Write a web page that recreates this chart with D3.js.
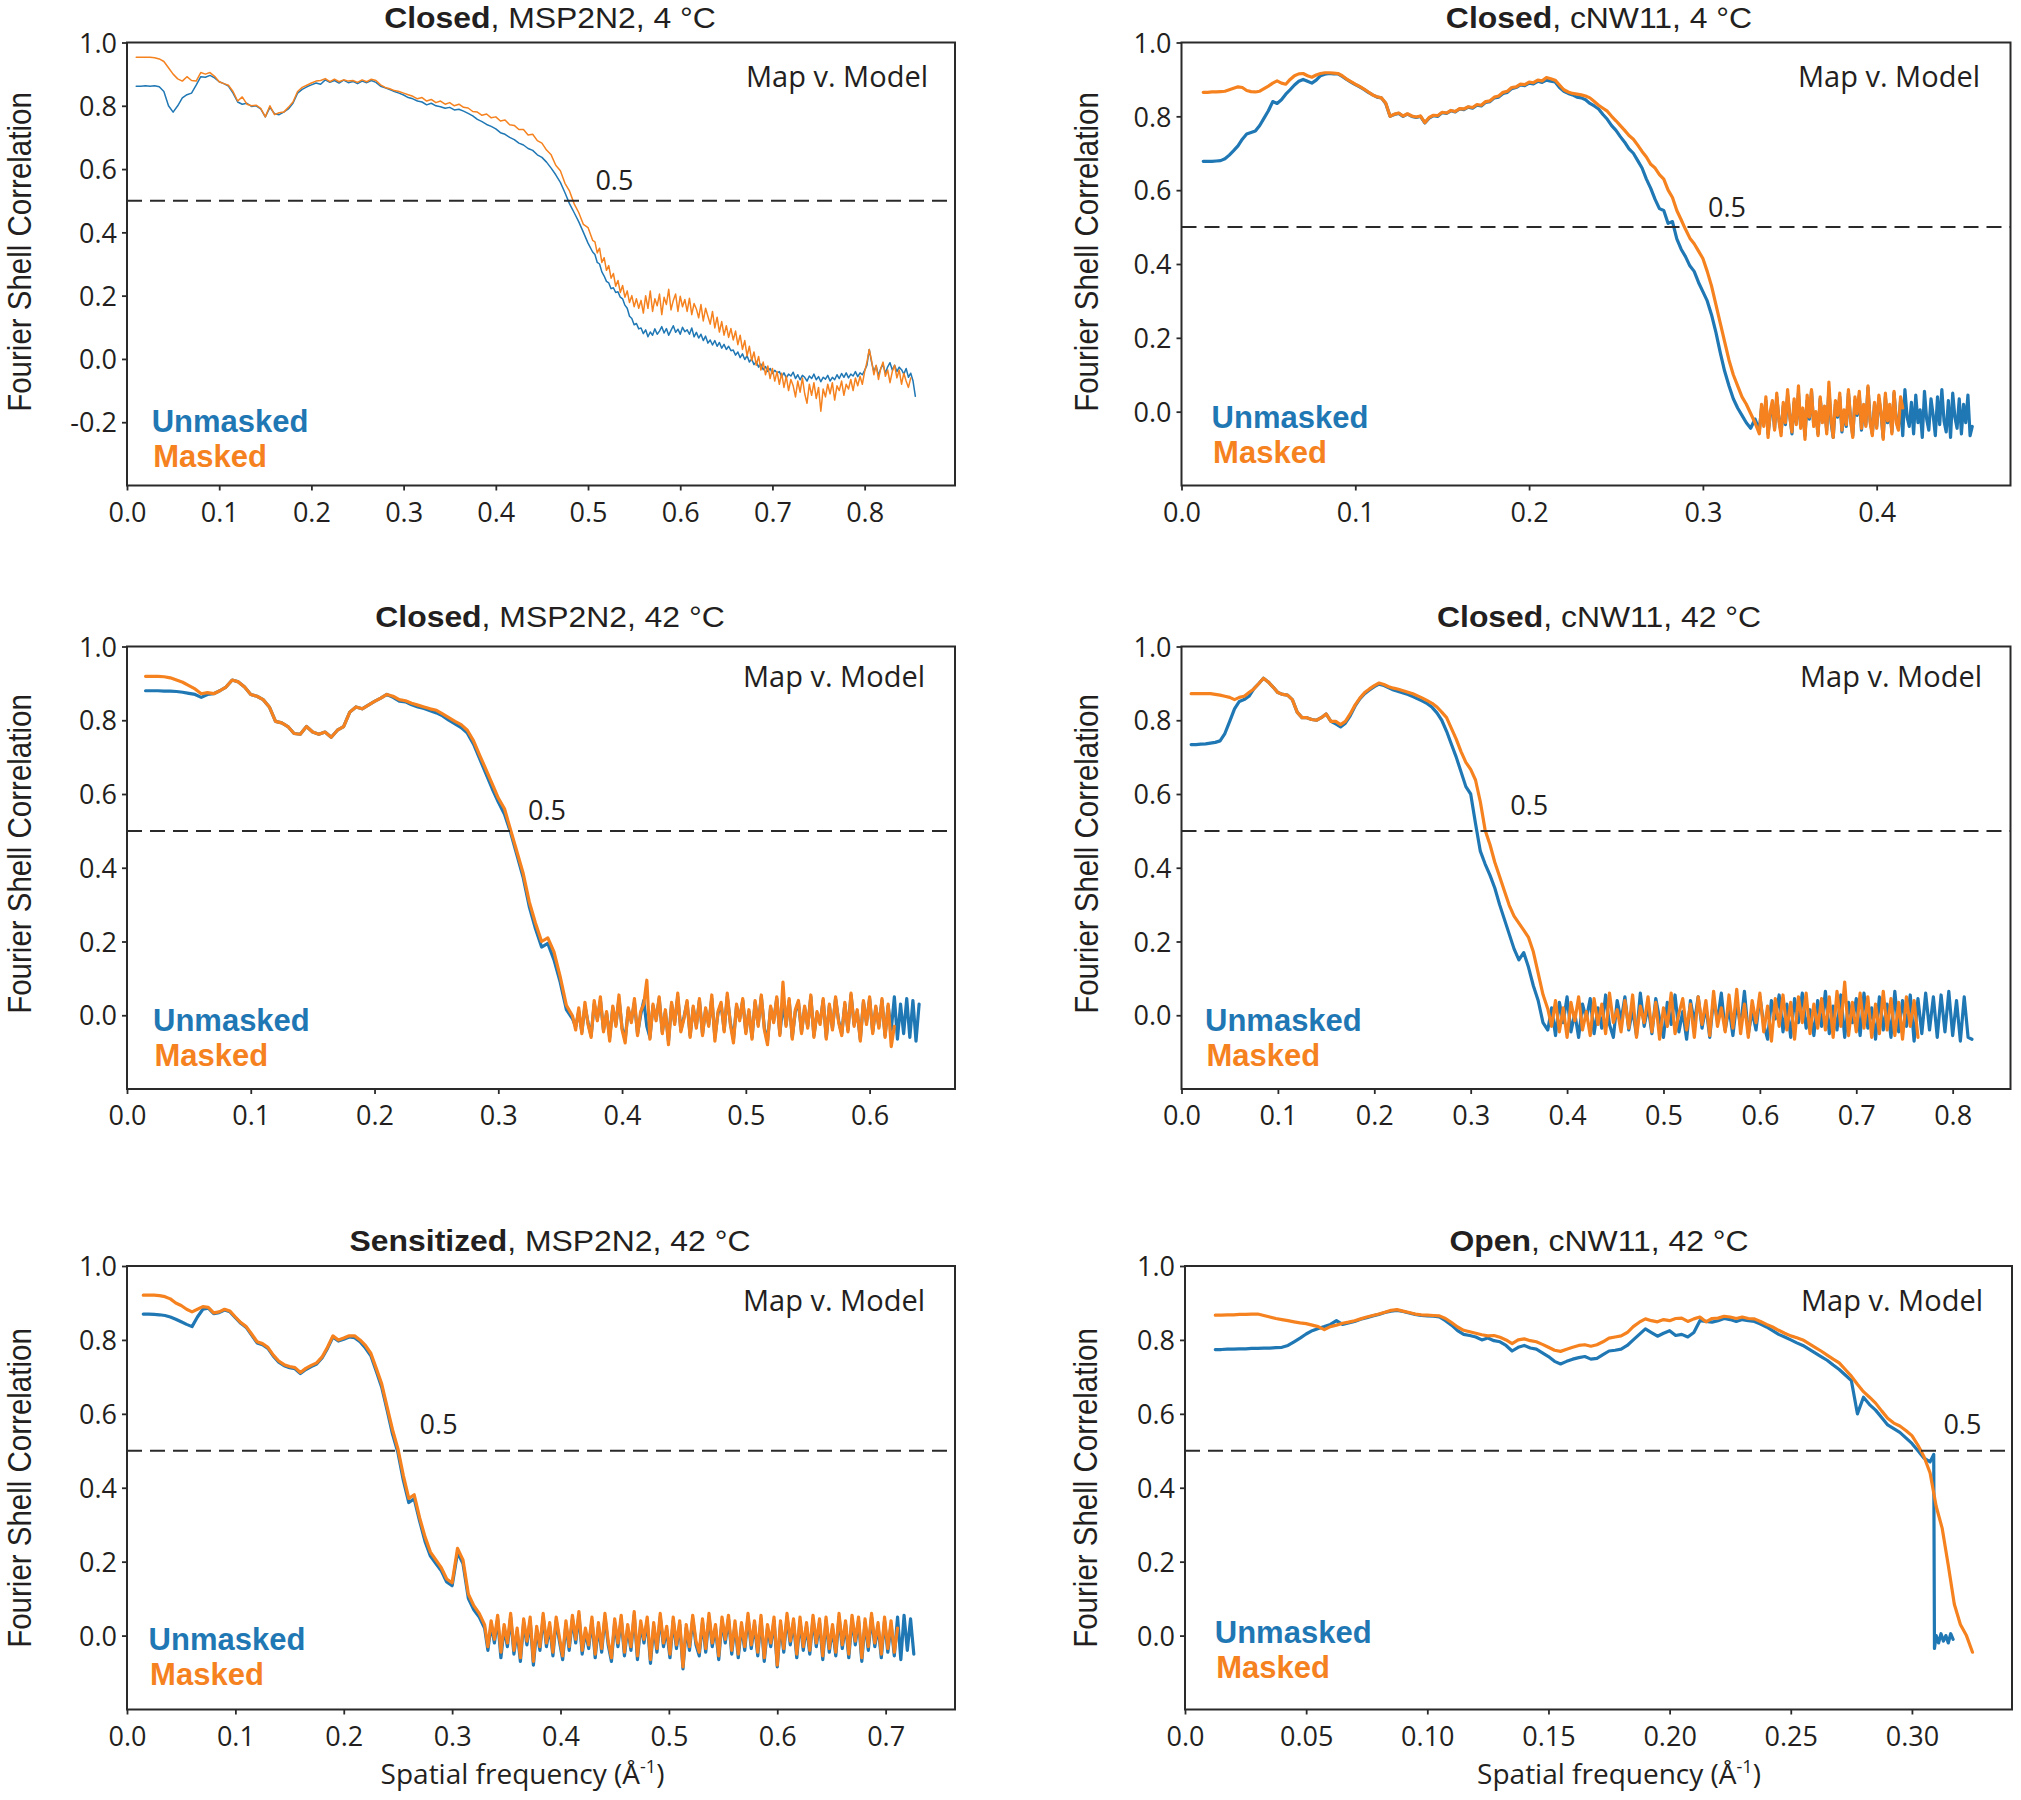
<!DOCTYPE html>
<html><head><meta charset="utf-8">
<script src="https://cdn.jsdelivr.net/npm/d3@7"></script>
<style>body{margin:0;background:#fff}</style>
</head><body>
<svg id="chart" width="2021" height="1800"></svg>
<script>
// ---------------- DATA ----------------
const titleBold = ["Closed", "Closed", "Closed", "Closed", "Sensitized", "Open"];
const titleRest = [", MSP2N2, 4 °C", ", cNW11, 4 °C", ", MSP2N2, 42 °C", ", cNW11, 42 °C", ", MSP2N2, 42 °C", ", cNW11, 42 °C"];
const xMax = [0.898, 0.477, 0.669, 0.86, 0.764, 0.3413];
const yMin = [-0.4, -0.2, -0.2, -0.2, -0.2, -0.2];
const xTickValues = [
  [0, 0.1, 0.2, 0.3, 0.4, 0.5, 0.6, 0.7, 0.8],
  [0, 0.1, 0.2, 0.3, 0.4],
  [0, 0.1, 0.2, 0.3, 0.4, 0.5, 0.6],
  [0, 0.1, 0.2, 0.3, 0.4, 0.5, 0.6, 0.7, 0.8],
  [0, 0.1, 0.2, 0.3, 0.4, 0.5, 0.6, 0.7],
  [0, 0.05, 0.10, 0.15, 0.20, 0.25, 0.30]
];
const xTickLabels = [
  ["0.0", "0.1", "0.2", "0.3", "0.4", "0.5", "0.6", "0.7", "0.8"],
  ["0.0", "0.1", "0.2", "0.3", "0.4"],
  ["0.0", "0.1", "0.2", "0.3", "0.4", "0.5", "0.6"],
  ["0.0", "0.1", "0.2", "0.3", "0.4", "0.5", "0.6", "0.7", "0.8"],
  ["0.0", "0.1", "0.2", "0.3", "0.4", "0.5", "0.6", "0.7"],
  ["0.0", "0.05", "0.10", "0.15", "0.20", "0.25", "0.30"]
];
const yTickValuesTL = [-0.2, 0, 0.2, 0.4, 0.6, 0.8, 1.0];
const yTickLabelsTL = ["-0.2", "0.0", "0.2", "0.4", "0.6", "0.8", "1.0"];
const yTickValues = [0, 0.2, 0.4, 0.6, 0.8, 1.0];
const yTickLabels = ["0.0", "0.2", "0.4", "0.6", "0.8", "1.0"];
const threshold = 0.5;
const thresholdLabel = "0.5";
const thresholdLabelX = [0.508, 0.303, 0.324, 0.341, 0.270, 0.313];
const seriesNames = ["Unmasked", "Masked"];
const cornerText = "Map v. Model";
const yAxisTitle = "Fourier Shell Correlation";
const xAxisTitle = "Spatial frequency (Å";
const xAxisTitleSup = "-1";

// ---- Panel 1: Closed, MSP2N2, 4 °C ----
const p1X0 = 0.010, p1Dx = 0.005, p1FineX0 = 0.5075, p1FineDx = 0.0025;
const p1Unmasked = [
  .862,.862,.863,.862,.863,.860,.845,.800,.780,.800,
  .825,.835,.840,.865,.892,.890,.896,.888,.876,.870,
  .862,.840,.812,.805,.808,.798,.800,.790,.765,.795,
  .775,.772,.780,.790,.808,.840,.852,.860,.866,.872,
  .868,.882,.874,.880,.872,.881,.873,.877,.870,.878,
  .873,.880,.874,.862,.857,.851,.845,.840,.834,.826,
  .822,.815,.812,.803,.808,.800,.797,.792,.795,.787,
  .789,.783,.776,.768,.757,.750,.741,.735,.727,.715,
  .710,.700,.693,.682,.676,.665,.659,.645,.637,.622,
  .603,.582,.558,.525,.490,.462,.433,.400,.366,.338
];
const p1UnmaskedFine = [
  .330,.305,.300,.275,.262,.245,.240,.222,.225,.210,.212,.195,.190,.170,.160,.135,.128,.108,.112,.095,
  .098,.080,.092,.070,.085,.075,.095,.078,.088,.102,.082,.096,.075,.090,.105,.084,.094,.078,.100,.086,
  .092,.078,.098,.070,.084,.066,.078,.058,.072,.050,.060,.044,.058,.040,.052,.034,.046,.030,.040,.026,
  .028,.012,.022,.004,.016,-.002,.010,-.010,.000,-.018,-.008,-.026,-.016,-.034,-.024,-.040,-.030,-.046,-.036,-.044,
  -.040,-.056,-.044,-.060,-.048,-.054,-.042,-.062,-.050,-.066,-.052,-.058,-.070,-.054,-.062,-.048,-.066,-.056,-.072,-.058,
  -.064,-.052,-.070,-.058,-.066,-.050,-.062,-.046,-.058,-.044,-.060,-.048,-.054,-.040,-.056,-.044,-.050,-.036,-.020,.030,
  -.010,-.040,-.022,-.052,-.030,-.018,-.045,-.025,-.012,-.035,-.020,-.040,-.026,-.034,-.048,-.030,-.058,-.045,-.070,-.118
];
const p1Masked = [
  .953,.953,.953,.953,.952,.948,.940,.920,.900,.885,
  .878,.892,.880,.878,.905,.900,.905,.893,.876,.870,
  .865,.845,.815,.828,.805,.800,.802,.792,.765,.800,
  .772,.778,.780,.795,.812,.845,.858,.865,.872,.878,
  .880,.886,.876,.884,.876,.882,.878,.880,.874,.882,
  .876,.884,.880,.866,.858,.854,.848,.845,.840,.835,
  .830,.822,.826,.815,.820,.810,.815,.805,.810,.800,
  .805,.795,.793,.782,.780,.770,.774,.762,.765,.752,
  .755,.740,.738,.725,.725,.708,.710,.690,.682,.660,
  .645,.612,.595,.555,.530,.490,.462,.425,.415,.375
];
const p1MaskedFine = [
  .370,.335,.350,.305,.320,.280,.295,.255,.270,.230,.248,.210,.232,.195,.215,.178,.200,.165,.190,.160,
  .185,.145,.200,.160,.215,.150,.190,.168,.205,.140,.195,.172,.220,.155,.185,.205,.150,.198,.165,.188,
  .150,.192,.140,.175,.158,.130,.172,.120,.160,.135,.110,.150,.098,.132,.085,.118,.075,.105,.068,.096,
  .060,.088,.045,.075,.030,.058,.010,.040,-.005,.022,-.020,.008,-.035,-.010,-.050,-.022,-.062,-.030,-.070,-.040,
  -.080,-.045,-.090,-.055,-.100,-.065,-.085,-.120,-.070,-.105,-.060,-.110,-.140,-.080,-.115,-.075,-.125,-.090,-.165,-.095,
  -.120,-.080,-.110,-.075,-.130,-.085,-.100,-.070,-.115,-.080,-.095,-.065,-.100,-.060,-.085,-.055,-.080,-.040,-.010,.030,
  -.005,-.050,-.020,-.065,-.030,-.010,-.055,-.035,-.075,-.040,-.020,-.060,-.035,-.080,-.045,-.070,-.090,-.060
];

// ---- Panel 2: Closed, cNW11, 4 °C ----
const p2X0 = 0.0125, p2Dx = 0.0025, p2FineX0 = 0.3325, p2FineDx = 0.00125;
const p2Unmasked = [
  .678,.678,.678,.679,.680,.685,.695,.707,.720,.738,.752,.756,.760,.775,.795,.815,.840,.835,.845,.860,
  .872,.885,.895,.900,.895,.890,.898,.910,.914,.916,.915,.915,.908,.900,.893,.886,.880,.873,.865,.858,
  .852,.850,.835,.800,.805,.808,.800,.806,.800,.797,.800,.782,.795,.802,.800,.810,.808,.815,.812,.820,
  .818,.825,.822,.830,.828,.838,.840,.850,.852,.862,.865,.875,.878,.885,.883,.890,.888,.895,.892,.898,
  .895,.893,.878,.868,.862,.858,.852,.850,.845,.835,.828,.820,.805,.792,.775,.762,.745,.730,.712,.700,
  .680,.660,.630,.605,.575,.550,.545,.510,.515,.468,.440,.420,.395,.380,.350,.325,.300,.262,.215,.160,
  .110,.070,.035,.010,-.010,-.030,-.045,-.020
];
const p2UnmaskedFine = [
  -.050,.010,-.030,.030,-.060,-.010,.020,-.045,.040,-.020,-.055,.015,-.035,.045,-.010,-.060,.025,-.030,.050,-.040,
  .005,-.065,.030,-.020,.055,-.035,-.005,-.060,.035,-.025,.010,-.050,.060,-.030,-.070,.020,-.015,.040,-.055,.000,
  -.040,.050,-.020,-.065,.030,-.010,.045,-.050,.015,-.035,.065,-.025,-.060,.020,-.040,.035,-.005,-.070,.040,-.030,
  .010,-.055,.050,-.020,-.045,.030,-.065,.060,-.015,-.040,.025,-.060,.045,-.030,.005,-.070,.055,-.020,-.050,.035,
  -.010,-.065,.040,-.035,.060,-.025,-.055,.030,-.070,.050,-.015,-.045,.035,-.060,.020,-.030,.045,-.065,-.040
];
const p2Masked = [
  .865,.865,.866,.866,.867,.868,.872,.876,.880,.878,.870,.867,.866,.868,.875,.882,.890,.896,.890,.887,
  .900,.910,.915,.916,.910,.906,.912,.916,.918,.918,.917,.916,.910,.901,.894,.887,.881,.874,.866,.858,
  .853,.850,.836,.800,.806,.809,.801,.807,.801,.798,.801,.783,.797,.803,.802,.811,.809,.816,.813,.821,
  .820,.826,.824,.832,.830,.840,.842,.852,.855,.865,.868,.878,.880,.887,.886,.893,.891,.898,.896,.905,
  .902,.898,.885,.872,.866,.862,.860,.858,.855,.850,.840,.830,.822,.814,.800,.788,.775,.762,.748,.738,
  .722,.705,.690,.670,.660,.642,.630,.600,.580,.545,.520,.494,.470,.455,.435,.415,.380,.340,.290,.240,
  .190,.140,.100,.070,.040,.020,-.005,-.030
];
const p2MaskedFine = [
  -.060,.020,-.040,.040,-.070,.000,.030,-.050,.050,-.025,-.065,.025,-.030,.060,-.015,-.055,.035,-.035,.070,-.045,
  .010,-.075,.045,-.015,.060,-.040,.000,-.065,.040,-.030,.015,-.060,.080,-.020,-.070,.030,-.010,.050,-.050,.005,
  -.035,.060,-.025,-.070,.040,-.005,.055,-.045,.020,-.040,.070,-.030,-.065,.025,-.045,.045,.000,-.075,.050,-.025,
  .020,-.060,.055,-.030,-.050,.040,.010
];

// ---- Panel 3: Closed, MSP2N2, 42 °C ----
const p3X0 = 0.015, p3Dx = 0.005, p3FineX0 = 0.3625, p3FineDx = 0.0025;
const p3Unmasked = [
  .880,.880,.880,.879,.879,.878,.876,.873,.870,.862,
  .870,.872,.880,.890,.909,.904,.890,.870,.865,.856,
  .836,.797,.793,.783,.764,.762,.783,.768,.762,.768,
  .754,.773,.783,.822,.836,.831,.841,.851,.860,.870,
  .862,.852,.850,.842,.836,.832,.826,.820,.812,.800,
  .790,.780,.765,.735,.695,.655,.615,.578,.545,.495,
  .435,.375,.295,.235,.185,.195,.150,.090,.015,-.010
];
const p3UnmaskedFine = [
  -.030,.010,-.045,.025,-.020,-.055,.030,-.010,.040,-.040,.005,-.060,.020,-.025,.045,-.035,-.065,.015,-.015,.035,
  -.050,.000,.040,-.030,-.060,.025,-.010,.045,-.045,.010,-.070,.030,-.020,.050,-.040,-.005,.035,-.055,.020,-.030,
  .040,-.050,.015,-.025,.045,-.060,.005,.030,-.040,.050,-.020,-.065,.025,-.010,.040,-.045,.010,-.060,.035,-.025,
  .050,-.035,-.070,.020,-.015,.045,-.050,.030,-.025,.040,-.060,.010,.035,-.045,.020,-.030,.050,-.055,.005,-.020,
  .040,-.060,.025,-.035,.045,-.015,-.050,.030,-.040,.055,-.025,.010,-.065,.035,-.020,.045,-.045,.020,-.030,.040,
  -.055,.025,-.040,.050,-.065,.030,-.050,.045,-.060,.040,-.070,.030
];
const p3Masked = [
  .919,.919,.919,.918,.915,.909,.903,.894,.885,.872,
  .875,.872,.880,.890,.909,.904,.890,.870,.865,.856,
  .836,.797,.793,.783,.764,.762,.783,.768,.762,.768,
  .754,.773,.783,.822,.836,.831,.841,.851,.860,.870,
  .865,.856,.853,.846,.841,.836,.831,.827,.817,.807,
  .797,.788,.773,.744,.705,.667,.628,.589,.560,.502,
  .444,.386,.308,.250,.200,.210,.172,.105,.027,-.002
];
const p3MaskedFine = [
  -.040,.020,-.050,.035,-.025,-.060,.040,-.015,.050,-.045,.010,-.070,.025,-.030,.055,-.040,-.075,.020,-.020,.045,
  -.055,.010,.030,.095,-.065,.030,-.015,.050,-.050,.015,-.080,.035,-.025,.060,-.045,-.010,.040,-.060,.025,-.035,
  .045,-.055,.020,-.030,.055,-.070,.010,.035,-.045,.060,-.025,-.075,.030,-.015,.045,-.050,.015,-.065,.040,-.030,
  .055,-.040,-.080,.025,-.020,.050,-.055,.090,-.030,.045,-.065,.015,.040,-.050,.025,-.035,.055,-.060,.010,-.025,
  .045,-.065,.030,-.040,.050,-.020,-.055,.035,-.045,.060,-.030,.015,-.070,.040,-.025,.050,-.050,.025,-.035,.045,
  -.060,.030,-.085,-.030
];

// ---- Panel 4: Closed, cNW11, 42 °C ----
const p4X0 = 0.010, p4Dx = 0.005, p4FineX0 = 0.380, p4FineDx = 0.004;
const p4Unmasked = [
  .734,.734,.735,.736,.738,.740,.744,.764,.797,.831,
  .851,.856,.865,.885,.899,.914,.904,.890,.875,.870,
  .868,.856,.822,.807,.807,.802,.800,.807,.817,.797,
  .790,.782,.792,.812,.838,.858,.872,.882,.891,.898,
  .894,.888,.882,.878,.874,.870,.864,.858,.852,.845,
  .835,.820,.800,.770,.735,.700,.660,.620,.600,.520,
  .445,.410,.380,.345,.300,.260,.220,.180,.150,.170,
  .130,.080,.040,-.020
];
const p4UnmaskedFine = [
  -.040,.020,-.055,.035,-.020,.050,-.045,.005,-.060,.030,-.010,.045,-.050,.020,-.035,.055,-.025,-.060,.040,-.015,
  .050,-.040,.015,-.055,.060,-.030,.025,-.050,.045,-.010,-.060,.035,-.025,.055,-.045,.010,-.065,.040,-.020,.050,
  -.035,.025,-.060,.045,-.015,.060,-.040,.020,-.055,.035,-.030,.065,-.050,.010,-.040,.050,-.025,-.065,.040,-.010,
  .055,-.045,.030,-.060,.045,-.020,.060,-.035,.015,-.055,.040,-.030,.065,-.050,.025,-.040,.055,-.060,.035,-.020,
  .045,-.055,.060,-.035,.020,-.065,.050,-.040,.030,-.060,.065,-.045,.040,-.030,.055,-.070,.045,-.050,.060,-.040,
  .050,-.060,.055,-.045,.065,-.055,.040,-.070,.050,-.060,-.065
];
const p4Masked = [
  .872,.872,.872,.872,.872,.870,.868,.865,.862,.856,
  .862,.865,.875,.885,.899,.914,.904,.890,.875,.870,
  .868,.856,.822,.807,.807,.802,.800,.807,.817,.797,
  .797,.788,.797,.817,.841,.860,.875,.885,.894,.901,
  .897,.891,.887,.884,.880,.876,.872,.866,.860,.853,
  .846,.836,.822,.807,.778,.749,.715,.686,.667,.638,
  .579,.502,.463,.415,.376,.337,.298,.269,.250,.231,
  .211,.172,.114,.056
];
const p4MaskedFine = [
  .017,-.030,.040,-.045,.020,-.060,.035,-.015,.050,-.040,.010,-.055,.045,-.025,.030,-.050,.060,-.020,.015,-.045,
  .040,-.035,.055,-.060,.025,-.020,.050,-.045,.035,-.065,.020,-.030,.060,-.050,.005,.045,-.040,.030,-.060,.050,
  -.025,.040,-.055,.065,-.030,.020,-.045,.055,-.035,.070,-.050,.030,-.060,.040,-.020,.060,-.045,.025,-.070,.045,
  -.030,.055,-.040,.035,-.065,.050,-.020,.060,-.050,.030,-.035,.045,-.040,.050,-.060,.065,-.030,.090,-.055,.035,
  -.045,.060,-.035,.050,-.060,.030,-.050,.065,-.040,.045,-.055,.035,-.065,.050,-.030,.040,-.060
];

// ---- Panel 5: Sensitized, MSP2N2, 42 °C ----
const p5X0 = 0.015, p5Dx = 0.005, p5FineX0 = 0.333, p5FineDx = 0.003;
const p5Unmasked = [
  .870,.870,.869,.868,.866,.862,.856,.849,.842,.836,
  .862,.883,.886,.871,.874,.881,.876,.860,.845,.834,
  .813,.792,.787,.777,.756,.740,.730,.725,.722,.709,
  .720,.728,.735,.751,.777,.808,.797,.802,.808,.806,
  .795,.778,.757,.715,.672,.610,.545,.495,.420,.360,
  .370,.310,.255,.215,.195,.175,.145,.135,.225,.195,
  .100,.070,.050,.020
];
const p5UnmaskedFine = [
  -.040,.030,-.020,.045,-.060,.020,-.030,.050,-.050,.010,-.070,.035,-.025,.040,-.080,.015,-.040,.050,-.030,.025,
  -.055,.040,-.015,-.065,.030,-.040,.045,-.020,.055,-.050,.010,-.035,.040,-.060,.025,-.045,.050,-.025,-.070,.035,
  -.030,.045,-.055,.020,-.040,.055,-.065,.030,-.020,.040,-.075,.025,-.045,.050,-.030,.015,-.060,.040,-.035,.030,
  -.090,.020,-.040,.045,-.025,-.055,.035,-.045,.050,-.030,.020,-.065,.040,-.020,.045,-.050,.030,-.060,.025,-.040,
  .050,-.035,.030,-.055,.045,-.070,.020,-.030,.040,-.085,.030,-.045,.050,-.025,.035,-.060,.040,-.040,.025,-.050,
  .045,-.030,.035,-.065,.040,-.045,.020,-.055,.050,-.035,.030,-.060,.045,-.025,.040,-.070,.035,-.040,.050,-.030,
  .025,-.060,.040,-.045,.030,-.055,.050,-.065,.055,-.040,.045,-.050
];
const p5Masked = [
  .921,.921,.921,.920,.917,.911,.900,.893,.883,.876,
  .883,.890,.888,.873,.876,.883,.878,.862,.847,.836,
  .816,.795,.790,.780,.759,.743,.733,.728,.725,.712,
  .723,.731,.738,.754,.780,.811,.800,.805,.811,.811,
  .800,.785,.764,.723,.681,.619,.557,.505,.433,.371,
  .381,.319,.267,.226,.205,.184,.153,.143,.236,.205,
  .112,.081,.060,.029
];
const p5MaskedFine = [
  -.030,.040,-.010,.055,-.045,.030,-.020,.060,-.040,.020,-.060,.045,-.015,.050,-.070,.025,-.030,.060,-.020,.035,
  -.045,.050,-.005,-.055,.040,-.030,.055,-.010,.065,-.040,.020,-.025,.050,-.050,.035,-.035,.060,-.015,-.060,.045,
  -.020,.055,-.045,.030,-.030,.065,-.055,.040,-.010,.050,-.065,.035,-.035,.060,-.020,.025,-.050,.050,-.025,.040,
  -.085,.030,-.030,.055,-.015,-.045,.045,-.035,.060,-.020,.030,-.055,.050,-.010,.055,-.040,.040,-.050,.035,-.030,
  .060,-.025,.040,-.045,.055,-.060,.030,-.020,.050,-.080,.040,-.035,.060,-.015,.045,-.050,.050,-.030,.035,-.040,
  .055,-.020,.045,-.055,.050,-.035,.030,-.045,.060,-.025,.040,-.050,.055,-.015,.050,-.060,.045,-.030,.060,-.020,
  .035,-.050,.050,-.035,.040,-.045,.020
];

// ---- Panel 6: Open, cNW11, 42 °C ----
const p6X0 = 0.0125, p6Dx = 0.0025;
const p6Unmasked = [
  .774,.774,.775,.775,.776,.776,.777,.777,.778,.778,.779,.780,.785,.795,.805,.816,.825,.831,.836,.842,
  .852,.842,.846,.850,.856,.860,.865,.869,.874,.878,.880,.877,.873,.869,.866,.865,.864,.862,.852,.840,
  .825,.815,.812,.808,.800,.805,.798,.795,.785,.770,.780,.785,.778,.775,.765,.755,.742,.735,.742,.748,
  .752,.755,.748,.750,.760,.770,.772,.775,.785,.800,.815,.830,.820,.810,.818,.825,.812,.815,.808,.820,
  .852,.850,.848,.852,.858,.855,.850,.855,.852,.850,.843,.835,.825,.815,.808,.800,.792,.785,.775,.765,
  .755,.745,.732,.720,.705,.690,.600,.645,.625,.610,.590,.570,.560,.550,.535,.520,.500,.480,.470
];
// points past the sudden drop of the unmasked curve: [frequency, FSC]
const p6UnmaskedTail = [
  [0.3090, 0.490], [0.3093, -0.035], [0.3100, 0.000], [0.3110, -0.020], [0.3120, 0.005],
  [0.3130, -0.015], [0.3140, 0.000], [0.3150, -0.020], [0.3160, 0.005], [0.3170, -0.010]
];
const p6Masked = [
  .867,.867,.868,.868,.869,.869,.870,.870,.866,.862,.858,.855,.852,.849,.846,.844,.840,.836,.828,.836,
  .840,.845,.848,.852,.857,.862,.866,.870,.875,.880,.882,.878,.874,.870,.868,.867,.866,.865,.858,.847,
  .835,.826,.822,.818,.814,.811,.812,.807,.800,.790,.800,.803,.798,.795,.788,.780,.772,.769,.775,.780,
  .785,.787,.783,.787,.795,.805,.808,.811,.820,.836,.848,.857,.852,.849,.855,.852,.858,.859,.850,.857,
  .862,.849,.858,.859,.864,.862,.858,.862,.858,.857,.850,.842,.835,.826,.818,.811,.806,.800,.790,.780,
  .770,.759,.748,.738,.720,.702,.680,.660,.645,.629,.608,.588,.575,.567,.555,.541,.515,.484,.440,.350,
  .290,.190,.085,.030,.000,-.045
];

// series = list of regularly sampled segments [x0, dx, values] + optional extra points
const panelSeries = [
  [{segs: [[p1X0, p1Dx, p1Unmasked], [p1FineX0, p1FineDx, p1UnmaskedFine]], tail: []},
   {segs: [[p1X0, p1Dx, p1Masked], [p1FineX0, p1FineDx, p1MaskedFine]], tail: []}],
  [{segs: [[p2X0, p2Dx, p2Unmasked], [p2FineX0, p2FineDx, p2UnmaskedFine]], tail: []},
   {segs: [[p2X0, p2Dx, p2Masked], [p2FineX0, p2FineDx, p2MaskedFine]], tail: []}],
  [{segs: [[p3X0, p3Dx, p3Unmasked], [p3FineX0, p3FineDx, p3UnmaskedFine]], tail: []},
   {segs: [[p3X0, p3Dx, p3Masked], [p3FineX0, p3FineDx, p3MaskedFine]], tail: []}],
  [{segs: [[p4X0, p4Dx, p4Unmasked], [p4FineX0, p4FineDx, p4UnmaskedFine]], tail: []},
   {segs: [[p4X0, p4Dx, p4Masked], [p4FineX0, p4FineDx, p4MaskedFine]], tail: []}],
  [{segs: [[p5X0, p5Dx, p5Unmasked], [p5FineX0, p5FineDx, p5UnmaskedFine]], tail: []},
   {segs: [[p5X0, p5Dx, p5Masked], [p5FineX0, p5FineDx, p5MaskedFine]], tail: []}],
  [{segs: [[p6X0, p6Dx, p6Unmasked]], tail: p6UnmaskedTail},
   {segs: [[p6X0, p6Dx, p6Masked]], tail: []}]
];

// ---------------- LAYOUT / STYLE ----------------
const colors = ["#1f77b4", "#f5821f"];
const ink = "#231f20";
const layout = [
  {left: 127,    right: 955,    top: 42.5,  bottom: 485.5,  tX: 550,  tY: 28,   yl: 30.6,   ylY: 252,  leg: [151.7, 431.7],  mapX: 928,  mapY: 87,   hOff: 11,   lw: 1.5},
  {left: 1181.5, right: 2010.5, top: 42.5,  bottom: 485.5,  tX: 1599, tY: 28,   yl: 1097.5, ylY: 252,  leg: [1211.6, 427.5], mapX: 1980, mapY: 87,   hOff: 10,   lw: 3.2},
  {left: 127,    right: 955,    top: 646.5, bottom: 1089,   tX: 550,  tY: 627,  yl: 30.6,   ylY: 854,  leg: [153, 1030.7],   mapX: 925,  mapY: 687,  hOff: 10.5, lw: 3.2},
  {left: 1181.5, right: 2010.5, top: 646.5, bottom: 1089,   tX: 1599, tY: 627,  yl: 1097.5, ylY: 854,  leg: [1205, 1030.7],  mapX: 1982, mapY: 687,  hOff: 15.5, lw: 3.2},
  {left: 127,    right: 955,    top: 1266,  bottom: 1709.5, tX: 550,  tY: 1251, yl: 30.6,   ylY: 1488, leg: [148.6, 1649.7], mapX: 925,  mapY: 1311, hOff: 16.5, lw: 3.2},
  {left: 1185,   right: 2012,   top: 1266,  bottom: 1709.5, tX: 1599, tY: 1251, yl: 1097,   ylY: 1488, leg: [1214.8, 1643],  mapX: 1983, mapY: 1311, hOff: 16.5, lw: 3.2}
];
const xTitlePos = [[522.5, 1783.6], [1619, 1783.6]];
const arial = "'Liberation Sans', Arial, sans-serif";
const myriad = "'Open Sans', sans-serif";

const svg = d3.select("#chart");
svg.append("rect").attr("width", 2021).attr("height", 1800).attr("fill", "#fff");

layout.forEach((L, i) => {
  const g = svg.append("g");
  const x = d3.scaleLinear().domain([0, xMax[i]]).range([L.left, L.right]);
  const y = d3.scaleLinear().domain([yMin[i], 1.0]).range([L.bottom, L.top]);

  // series
  const line = d3.line().x(d => x(d[0])).y(d => y(d[1]));
  panelSeries[i].forEach((s, k) => {
    let pts = [];
    s.segs.forEach(([x0, dx, vals]) => {
      pts = pts.concat(vals.map((v, j) => [x0 + j * dx, v]));
    });
    pts = pts.concat(s.tail);
    g.append("path").datum(pts)
      .attr("d", line)
      .attr("fill", "none")
      .attr("stroke", colors[k])
      .attr("stroke-width", L.lw)
      .attr("stroke-linejoin", "round")
      .attr("stroke-linecap", "round");
  });

  // threshold line
  g.append("line")
    .attr("x1", L.left).attr("x2", L.right)
    .attr("y1", y(threshold)).attr("y2", y(threshold))
    .attr("stroke", "#2a2a2a").attr("stroke-width", 2)
    .attr("stroke-dasharray", "15,8");
  g.append("text")
    .attr("x", x(thresholdLabelX[i])).attr("y", y(threshold) - L.hOff)
    .attr("font-family", myriad).attr("font-size", 27)
    .attr("fill", ink).text(thresholdLabel);

  // axes
  const xa = d3.axisBottom(x).tickValues(xTickValues[i])
    .tickFormat((d, j) => xTickLabels[i][j]).tickSize(5).tickSizeOuter(0);
  const gx = g.append("g").attr("transform", `translate(0,${L.bottom})`).call(xa);
  const yv = i === 0 ? yTickValuesTL : yTickValues;
  const yl = i === 0 ? yTickLabelsTL : yTickLabels;
  const ya = d3.axisLeft(y).tickValues(yv)
    .tickFormat((d, j) => yl[j]).tickSize(5).tickSizeOuter(0);
  const gy = g.append("g").attr("transform", `translate(${L.left},0)`).call(ya);
  [gx, gy].forEach(a => {
    a.select(".domain").remove();
    a.selectAll(".tick line").attr("stroke", "#2a2a2a").attr("stroke-width", 1.8);
    a.selectAll("text").attr("font-family", myriad)
      .attr("font-size", 27).attr("fill", ink);
  });
  gx.selectAll("text").attr("dy", null).attr("y", 36);
  gy.selectAll("text").attr("x", -10).attr("dy", "0.36em");

  // frame
  g.append("rect")
    .attr("x", L.left).attr("y", L.top)
    .attr("width", L.right - L.left).attr("height", L.bottom - L.top)
    .attr("fill", "none").attr("stroke", "#2a2a2a").attr("stroke-width", 2);

  // title (Arial, slightly widened as in the figure)
  const t = g.append("text")
    .attr("transform", `translate(${L.tX},${L.tY}) scale(1.1,1)`)
    .attr("text-anchor", "middle")
    .attr("font-family", arial).attr("font-size", 29).attr("fill", ink);
  t.append("tspan").attr("font-weight", 700).text(titleBold[i]);
  t.append("tspan").text(titleRest[i]);

  // corner text
  g.append("text").attr("x", L.mapX).attr("y", L.mapY)
    .attr("text-anchor", "end")
    .attr("font-family", myriad).attr("font-size", 29)
    .attr("fill", ink).text(cornerText);

  // legend text
  seriesNames.forEach((nm, k) => {
    g.append("text").attr("x", L.leg[0] + k * 1.5).attr("y", L.leg[1] + k * 35)
      .attr("font-family", arial).attr("font-weight", 700)
      .attr("font-size", 31).attr("fill", colors[k]).text(nm);
  });

  // y axis title
  g.append("text")
    .attr("transform", `translate(${L.yl},${L.ylY}) rotate(-90) scale(1,1.1)`)
    .attr("text-anchor", "middle")
    .attr("font-family", arial).attr("font-size", 29.5)
    .attr("fill", ink).text(yAxisTitle);
});

// x axis titles on bottom row
xTitlePos.forEach(p => {
  const t = svg.append("text").attr("x", p[0]).attr("y", p[1])
    .attr("text-anchor", "middle")
    .attr("font-family", myriad).attr("font-size", 28).attr("fill", ink);
  t.append("tspan").text(xAxisTitle);
  t.append("tspan").attr("font-size", 18).attr("dy", -11).text(xAxisTitleSup);
  t.append("tspan").attr("dy", 11).text(")");
});
</script>
</body></html>
